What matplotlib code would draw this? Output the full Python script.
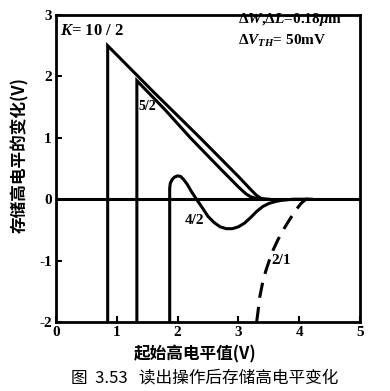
import matplotlib
matplotlib.use("Agg")
import matplotlib.pyplot as plt

plt.rcParams['font.family'] = ['Liberation Serif', 'Noto Sans CJK SC', 'DejaVu Sans']
plt.rcParams['mathtext.fontset'] = 'custom'
plt.rcParams['mathtext.rm'] = 'Liberation Serif:bold'
plt.rcParams['mathtext.it'] = 'Liberation Serif:italic:bold'
plt.rcParams['mathtext.bf'] = 'Liberation Serif:bold'

# Curves (x: initial high level V, y: change of stored high level V)
k10_x = [0.85, 0.85, 1.6, 2.37, 3.0, 3.2, 3.3, 3.38, 3.5]
k10_y = [-2.0, 2.5, 1.75, 1.0, 0.37, 0.16, 0.06, 0.01, 0.0]

k5_x = [1.33, 1.33, 1.8, 2.21, 2.7, 3.0, 3.12, 3.2, 3.3, 3.4]
k5_y = [-2.0, 1.93, 1.45, 1.0, 0.5, 0.2, 0.09, 0.04, 0.01, 0.0]

k4_x = [1.87, 1.87, 1.88, 1.91, 1.95, 2.0, 2.05, 2.1, 2.16, 2.23, 2.31, 2.4, 2.5,
        2.6, 2.7, 2.8, 2.9, 3.0, 3.1, 3.2, 3.3, 3.4, 3.5, 3.6, 3.7, 3.8, 3.9, 4.2]
k4_y = [-2.0, 0.18, 0.26, 0.32, 0.36, 0.38, 0.37, 0.32, 0.24, 0.12, 0.0, -0.13, -0.28,
        -0.38, -0.45, -0.48, -0.48, -0.45, -0.39, -0.3, -0.2, -0.12, -0.07, -0.04, -0.02, -0.01, 0.0, 0.0]

k2_x = [3.3, 3.32, 3.35, 3.4, 3.45, 3.5, 3.57, 3.65, 3.75, 3.85, 3.95, 4.03, 4.11, 4.2]
k2_y = [-2.0, -1.85, -1.6, -1.35, -1.17, -1.02, -0.83, -0.66, -0.48, -0.32, -0.17, -0.07, 0.0, 0.0]

xticks = [0, 1, 2, 3, 4, 5]
yticks = [-2, -1, 0, 1, 2, 3]

fig = plt.figure(figsize=(3.9, 3.91), dpi=100)
ax = fig.add_axes([56/390, 1-322/391, (360-56)/390, (322-15)/391])

lw = 2.2
ax.plot(k10_x, k10_y, color='black', lw=lw, solid_joinstyle='miter')
ax.plot(k5_x, k5_y, color='black', lw=lw, solid_joinstyle='miter')
ax.plot(k4_x, k4_y, color='black', lw=lw)
ax.plot(k2_x, k2_y, color='black', lw=lw, dashes=(5, 3))
ax.axhline(0, color='black', lw=lw)

ax.set_xlim(0, 5)
ax.set_ylim(-2, 3)
ax.set_xticks(xticks)
ax.set_yticks(yticks)
ax.set_xticklabels([str(v) for v in xticks], fontweight='bold', fontsize=11)
ax.set_yticklabels([str(v) for v in yticks], fontweight='bold', fontsize=11)
ax.tick_params(direction='in', length=4, width=1.5, pad=3)
for s in ax.spines.values():
    s.set_linewidth(2)

ax.text(0.07, 2.68, r'$K$= 10 / 2', fontsize=12, fontweight='bold')
ax.text(1.36, 1.45, '5/2', fontsize=10, fontweight='bold')
ax.text(2.12, -0.4, '4/2', fontsize=11, fontweight='bold')
ax.text(3.55, -1.05, '2/1', fontsize=11, fontweight='bold')
ax.text(3.0, 2.87, r'$\Delta W$,$\Delta L$=0.18$\mu$m', fontsize=11, fontweight='bold')
ax.text(3.0, 2.52, r'$\Delta V_{TH}$= 50mV', fontsize=11, fontweight='bold')

cjk = ['Noto Sans CJK SC', 'DejaVu Sans']
ax.set_xlabel('起始高电平值(V)', family=cjk, fontweight='bold', fontsize=12)
ax.set_ylabel('存储高电平的变化(V)', family=cjk, fontweight='bold', fontsize=12)
ax.xaxis.set_label_coords(0.457, -0.078)
ax.yaxis.set_label_coords(-0.088, 0.544)
fig.text(205/390, 1-378/391, '图  3.53   读出操作后存储高电平变化', family=cjk,
         fontsize=12, ha='center', va='center')

fig.savefig('out.png', dpi=100)
